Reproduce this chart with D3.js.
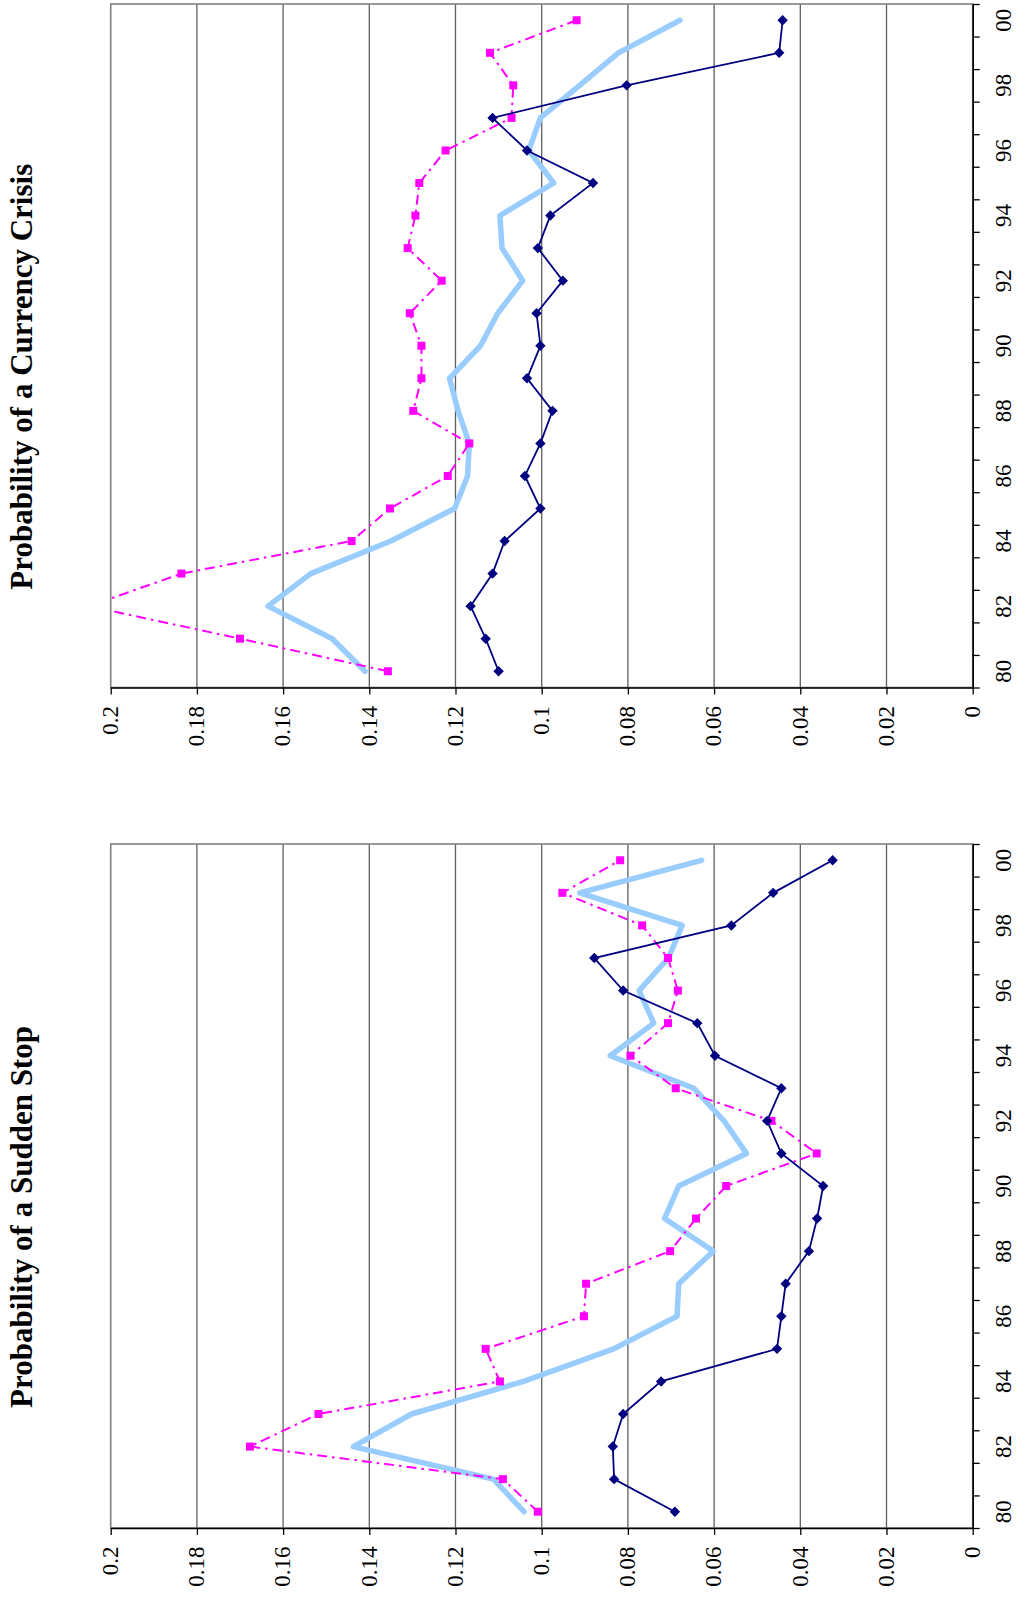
<!DOCTYPE html>
<html>
<head>
<meta charset="utf-8">
<script src="https://cdn.jsdelivr.net/npm/d3@7"></script>
<style>
  body { margin: 0; background: #fff; }
  svg text { font-family: "Liberation Serif", "Times New Roman", serif; fill: #000; }
</style>
</head>
<body>
<script>
// two excel-style line charts, printed sideways (rotated -90)

var years = ["80","81","82","83","84","85","86","87","88","89","90",
             "91","92","93","94","95","96","97","98","99","00"];
var yearLabels = ["80","82","84","86","88","90","92","94","96","98","00"];
var valueTicks = [0, 0.02, 0.04, 0.06, 0.08, 0.1, 0.12, 0.14, 0.16, 0.18, 0.2];

// Probability of a Currency Crisis
var crisisNavy = [0.110, 0.113, 0.1165, 0.1114, 0.1086, 0.1003, 0.1039, 0.1003, 0.0975, 0.1034, 0.1003,
                  0.1012, 0.0951, 0.1009, 0.0980, 0.0881, 0.1034, 0.1114, 0.0803, 0.0449, 0.0441];
var crisisPink = [0.1357, 0.1700, 0.205, 0.1836, 0.1441, 0.1352, 0.1218, 0.1168, 0.1298, 0.1279, 0.1279,
                  0.1306, 0.1232, 0.1311, 0.1293, 0.1284, 0.1223, 0.1070, 0.1066, 0.1120, 0.0919];
var crisisBlue = [0.1410, 0.1486, 0.1635, 0.1536, 0.1350, 0.1202, 0.1172, 0.1168, 0.1194, 0.1214, 0.1142,
                  0.1102, 0.1044, 0.1092, 0.1097, 0.0972, 0.1030, 0.1003, 0.0912, 0.0822, 0.0679];

// Probability of a Sudden Stop
var stopNavy = [0.0691, 0.0832, 0.0835, 0.0811, 0.0723, 0.0454, 0.0444, 0.0434, 0.0380, 0.0361, 0.0347,
                0.0444, 0.0477, 0.0444, 0.0598, 0.0639, 0.0811, 0.0878, 0.0560, 0.0463, 0.0325];
var stopPink = [0.1009, 0.1090, 0.1677, 0.1518, 0.1097, 0.1130, 0.0902, 0.0897, 0.0702, 0.0642, 0.0572,
                0.0362, 0.0467, 0.0689, 0.0794, 0.0707, 0.0684, 0.0707, 0.0767, 0.0952, 0.0818];
var stopBlue = [0.1041, 0.1112, 0.1437, 0.1302, 0.1042, 0.0833, 0.0686, 0.0682, 0.0602, 0.0715, 0.0682,
                0.0525, 0.0577, 0.0647, 0.0841, 0.0740, 0.0774, 0.0706, 0.0674, 0.0912, 0.0629];

var charts = [
  { title: "Probability of a Currency Crisis", top: 4, bottom: 687.5, navy: crisisNavy, pink: crisisPink, blue: crisisBlue },
  { title: "Probability of a Sudden Stop", top: 844, bottom: 1528, navy: stopNavy, pink: stopPink, blue: stopBlue }
];

var left = 110.7, right = 972.7;

var svg = d3.select("body").append("svg")
  .attr("width", 1018)
  .attr("height", 1606);

// value runs right-to-left across the page (0 at the right)
var x = d3.scaleLinear().domain([0, 0.2]).range([right, left]);

charts.forEach(function (c, ci) {
  var y = d3.scaleBand().domain(years).range([c.bottom, c.top]);
  var yIdx = d3.scaleLinear().domain([0, years.length]).range([c.bottom, c.top]);
  var cy = function (d, i) { return y(years[i]) + y.bandwidth() / 2; };

  var g = svg.append("g");

  g.append("clipPath").attr("id", "clip" + ci)
    .append("rect")
    .attr("x", left).attr("y", c.top)
    .attr("width", right - left).attr("height", c.bottom - c.top);

  // gridlines
  g.selectAll(".grid")
    .data(valueTicks.slice(1, -1))
    .enter().append("line")
    .attr("x1", function (d) { return x(d); })
    .attr("x2", function (d) { return x(d); })
    .attr("y1", c.top).attr("y2", c.bottom)
    .attr("stroke", "#5e5e5e").attr("stroke-width", 1.3);

  // plot frame
  g.append("rect")
    .attr("x", left).attr("y", c.top)
    .attr("width", right - left).attr("height", c.bottom - c.top)
    .attr("fill", "none").attr("stroke", "#808080").attr("stroke-width", 1.6);

  // value axis along the bottom edge
  var vAxis = g.append("g")
    .attr("transform", "translate(0," + c.bottom + ")")
    .call(d3.axisBottom(x).tickValues(valueTicks).tickSize(7).tickSizeOuter(0).tickFormat(""));
  vAxis.select(".domain").attr("stroke", "#000").attr("stroke-width", 1.6);
  vAxis.selectAll(".tick line").attr("stroke", "#000").attr("stroke-width", 1.3);

  g.selectAll(".vlab")
    .data(valueTicks)
    .enter().append("text")
    .attr("transform", function (d) { return "translate(" + x(d) + "," + (c.bottom + 18.5) + ") rotate(-90)"; })
    .attr("text-anchor", "end")
    .attr("dy", "0.32em")
    .style("font-size", "23px")
    .text(function (d) { return String(+d.toFixed(2)); });

  // year axis along the right edge, ticks between categories
  var yAxis = g.append("g")
    .attr("transform", "translate(" + right + ",0)")
    .call(d3.axisRight(yIdx).tickValues(d3.range(years.length + 1)).tickSize(7).tickSizeOuter(0).tickFormat(""));
  yAxis.select(".domain").attr("stroke", "#000").attr("stroke-width", 1.6);
  yAxis.selectAll(".tick line").attr("stroke", "#000").attr("stroke-width", 1.3);

  g.selectAll(".ylab")
    .data(yearLabels)
    .enter().append("text")
    .attr("transform", function (d) { return "translate(1011," + (y(d) + y.bandwidth() / 2) + ") rotate(-90)"; })
    .attr("text-anchor", "middle")
    .style("font-size", "23px")
    .text(function (d) { return d; });

  // title
  g.append("text")
    .attr("transform", "translate(32," + ((c.top + c.bottom) / 2 + 31) + ") rotate(-90)")
    .attr("text-anchor", "middle")
    .style("font-size", "31px")
    .style("font-weight", "bold")
    .text(c.title);

  var line = d3.line()
    .x(function (d) { return x(d); })
    .y(cy);

  var plot = g.append("g").attr("clip-path", "url(#clip" + ci + ")");

  plot.append("path")
    .datum(c.blue)
    .attr("d", line)
    .attr("fill", "none")
    .attr("stroke", "#99ccff")
    .attr("stroke-width", 5.5)
    .attr("stroke-linejoin", "round")
    .attr("stroke-linecap", "round");

  plot.append("path")
    .datum(c.pink)
    .attr("d", line)
    .attr("fill", "none")
    .attr("stroke", "#ff00ff")
    .attr("stroke-width", 2)
    .attr("stroke-dasharray", "10,5,2.5,5");

  plot.selectAll(".sq")
    .data(c.pink)
    .enter().append("rect")
    .attr("x", function (d) { return x(d) - 4; })
    .attr("y", function (d, i) { return cy(d, i) - 4; })
    .attr("width", 8).attr("height", 8)
    .attr("fill", "#ff00ff");

  plot.append("path")
    .datum(c.navy)
    .attr("d", line)
    .attr("fill", "none")
    .attr("stroke", "#000080")
    .attr("stroke-width", 1.8);

  plot.selectAll(".dia")
    .data(c.navy)
    .enter().append("path")
    .attr("transform", function (d, i) { return "translate(" + x(d) + "," + cy(d, i) + ")"; })
    .attr("d", "M0,-5.2L5.2,0L0,5.2L-5.2,0Z")
    .attr("fill", "#000080");
});
</script>
</body>
</html>
